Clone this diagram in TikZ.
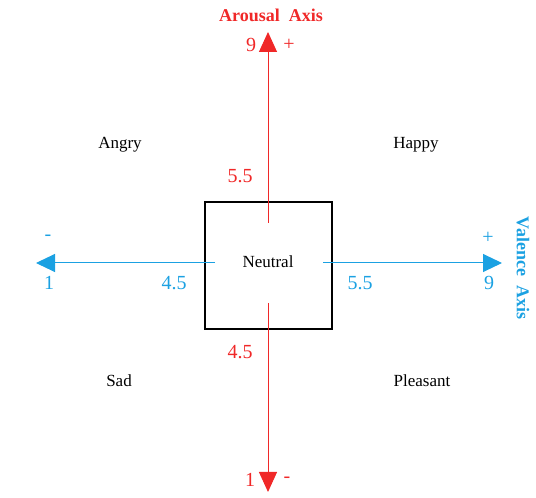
\documentclass[tikz,border=0pt]{standalone}
\usepackage{fontspec}
\setmainfont{Liberation Serif}
\usetikzlibrary{arrows.meta}
\definecolor{axred}{RGB}{240,40,40}
\definecolor{axblue}{RGB}{27,161,226}
\begin{document}
\begin{tikzpicture}[x=1pt,y=1pt,
  lbl/.style={font=\fontsize{17}{20}\selectfont, inner sep=0pt},
  num/.style={font=\fontsize{20}{24}\selectfont, inner sep=0pt},
  ttl/.style={font=\fontsize{18}{22}\selectfont\bfseries, inner sep=0pt},
  redaxis/.style={draw=axred, line width=1pt, -{Triangle[width=18pt,length=20pt]}},
  blueaxis/.style={draw=axblue, line width=1pt, -{Triangle[width=18pt,length=19pt]}}]
\useasboundingbox (0,0) rectangle (536,498);
% central box
\node[draw=black, line width=1.5pt, minimum width=127pt, minimum height=127pt, inner sep=0pt] (neutral) at (268.5,232.5) {};
\node[lbl] (neutraltxt) at (268,236) {Neutral};
% axis endpoints
\coordinate (vtop0) at (268,275);
\coordinate (vtop1) at (268,466);
\coordinate (vbot0) at (268,195);
\coordinate (vbot1) at (268,6);
\coordinate (hleft0) at (215,235);
\coordinate (hleft1) at (36,235);
\coordinate (hright0) at (323,235);
\coordinate (hright1) at (502,235);
\draw[redaxis] (vtop0) -- (vtop1);
\draw[redaxis] (vbot0) -- (vbot1);
\draw[blueaxis] (hleft0) -- (hleft1);
\draw[blueaxis] (hright0) -- (hright1);
% titles
\node[ttl, text=axred] (aroustitle) at (271,483) {Arousal\ \ Axis};
\node[ttl, text=axblue, rotate=-90] (valtitle) at (523,230) {Valence\ \ Axis};
% arousal numbers
\node[num, text=axred] (a9) at (251,453) {9};
\node[num, text=axred] (aplus) at (289,453) {+};
\node[num, text=axred] (a55) at (240,322) {5.5};
\node[num, text=axred] (a45) at (240,146) {4.5};
\node[num, text=axred] (a1) at (250,18) {1};
\node[num, text=axred] (aminus) at (287,18) {-};
% valence numbers
\node[num, text=axblue] (vminus) at (48,260) {-};
\node[num, text=axblue] (v1) at (49,215) {1};
\node[num, text=axblue] (v45) at (174,215) {4.5};
\node[num, text=axblue] (v55) at (360,215) {5.5};
\node[num, text=axblue] (v9) at (489,215) {9};
\node[num, text=axblue] (vplus) at (488,260) {+};
% quadrant labels
\node[lbl] (angry) at (120,353) {Angry};
\node[lbl] (happy) at (416,353) {Happy};
\node[lbl] (sad) at (119,117) {Sad};
\node[lbl] (pleasant) at (422,117) {Pleasant};
\end{tikzpicture}
\end{document}
